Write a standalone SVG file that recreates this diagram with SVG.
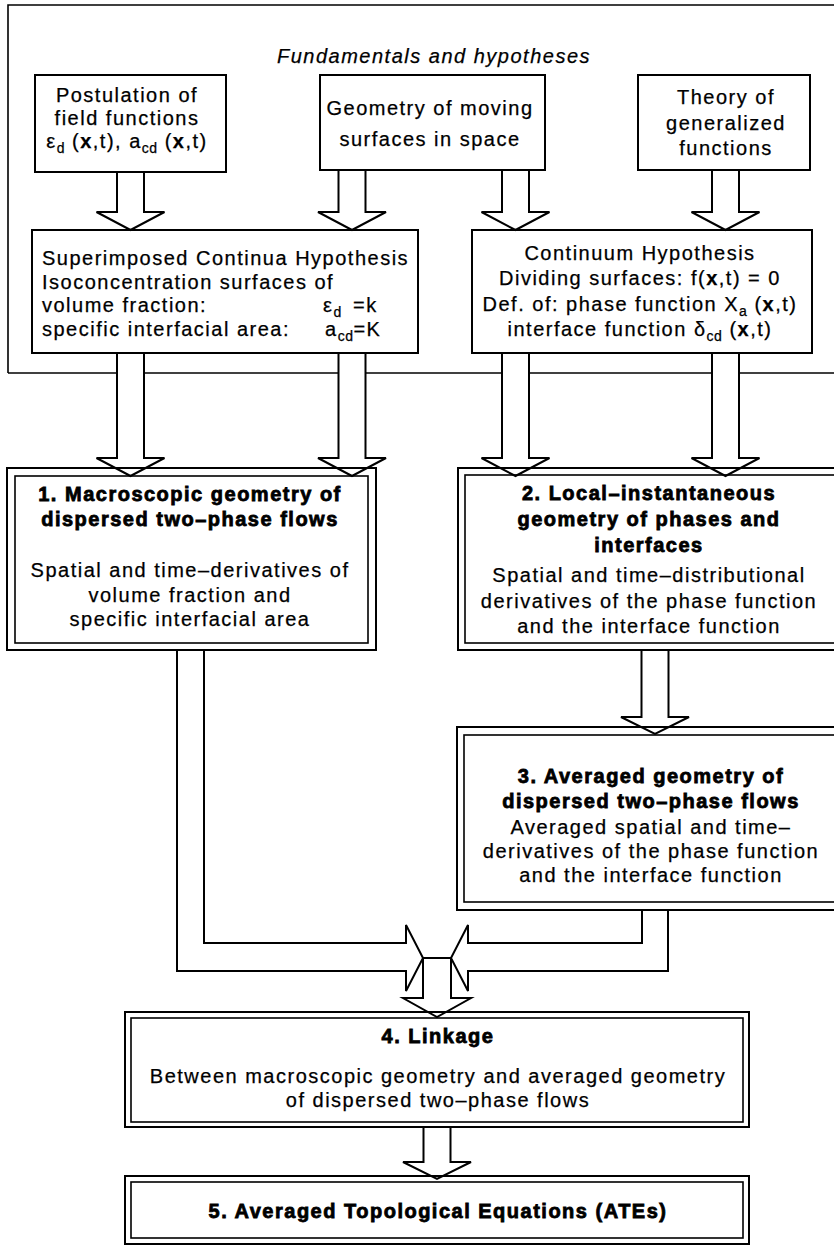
<svg xmlns="http://www.w3.org/2000/svg" width="834" height="1247" viewBox="0 0 834 1247">
<style>
.t{font-family:"Liberation Sans",Arial,Helvetica,sans-serif;font-size:20px;letter-spacing:1.5px;fill:#000;stroke:#000;stroke-width:0.25px}
.c{text-anchor:middle}
.b{font-weight:bold}
.hb{font-weight:bold;stroke:#000;stroke-width:0.8px}
.i{font-style:italic}
.s{font-size:14px;letter-spacing:0.5px}
.frame{fill:none;stroke:#000;stroke-width:1.6}
.box{fill:none;stroke:#000;stroke-width:2}
.box2{fill:none;stroke:#000;stroke-width:1.6}
.arr{fill:#fff;stroke:#000;stroke-width:2;stroke-linejoin:miter}
</style>
<rect x="0" y="0" width="834" height="1247" fill="#fff"/>

<g id="frame">
<path class="frame" d="M 8,373 L 8,5 L 840,5"/>
<path class="frame" d="M 8,373 L 840,373"/>
<text class="t i c" x="434" y="63">Fundamentals and hypotheses</text>
</g>

<g id="connectors">
<path class="arr" d="M 117,172 L 117,212 L 96.5,212 L 130.5,230 L 164.5,212 L 144,212 L 144,172"/>
<path class="arr" d="M 338.5,170 L 338.5,212 L 318,212 L 352,230 L 386,212 L 365.5,212 L 365.5,170"/>
<path class="arr" d="M 502,170 L 502,212 L 481.5,212 L 515.5,230 L 549.5,212 L 529,212 L 529,170"/>
<path class="arr" d="M 712,170 L 712,212 L 691.5,212 L 725.5,230 L 759.5,212 L 739,212 L 739,170"/>

<path class="arr" d="M 117,353 L 117,458 L 96.5,458 L 130.5,476 L 164.5,458 L 144,458 L 144,353"/>
<path class="arr" d="M 338.5,353 L 338.5,458 L 318,458 L 352,476 L 386,458 L 365.5,458 L 365.5,353"/>
<path class="arr" d="M 502,353 L 502,458 L 481.5,458 L 515.5,476 L 549.5,458 L 529,458 L 529,353"/>
<path class="arr" d="M 712,353 L 712,458 L 691.5,458 L 725.5,476 L 759.5,458 L 739,458 L 739,353"/>

<path class="arr" d="M 641.5,650 L 641.5,717 L 621,717 L 655,734 L 689,717 L 668.5,717 L 668.5,650"/>

<path class="arr" d="M 204,650 L 204,943 L 406,943 L 406,925 L 423,958 L 406,991 L 406,971 L 177,971 L 177,650"/>
<path class="arr" d="M 642,910 L 642,943 L 468,943 L 468,925 L 451,958 L 468,991 L 468,971 L 668,971 L 668,910"/>
<path class="arr" d="M 423,958 L 451,958 L 451,998 L 471,998 L 437,1017 L 403,998 L 423,998 Z"/>

<path class="arr" d="M 423.5,1127 L 423.5,1162 L 403,1162 L 437,1179 L 471,1162 L 450.5,1162 L 450.5,1127"/>
</g>

<g id="nodeA">
<rect class="box" x="35" y="75" width="191" height="97"/>
<text class="t c" x="127" y="102">Postulation of</text>
<text class="t c" x="127" y="125">field functions</text>
<text class="t c" x="127" y="148">ε<tspan class="s" dy="5">d</tspan><tspan dy="-5"> (</tspan><tspan class="b">x</tspan>,t), a<tspan class="s" dy="5">cd</tspan><tspan dy="-5"> (</tspan><tspan class="b">x</tspan>,t)</text>
</g>

<g id="nodeB">
<rect class="box" x="320" y="75" width="225" height="95"/>
<text class="t c" x="430" y="115">Geometry of moving</text>
<text class="t c" x="430" y="146">surfaces in space</text>
</g>

<g id="nodeC">
<rect class="box" x="638" y="75" width="172" height="95"/>
<text class="t c" x="726" y="104">Theory of</text>
<text class="t c" x="726" y="130">generalized</text>
<text class="t c" x="726" y="155">functions</text>
</g>

<g id="nodeD">
<rect class="box" x="32" y="230" width="386" height="123"/>
<text class="t" x="42" y="265">Superimposed Continua Hypothesis</text>
<text class="t" x="42" y="289">Isoconcentration surfaces of</text>
<text class="t" x="42" y="312">volume fraction:</text>
<text class="t" x="323" y="312">ε<tspan class="s" dy="5">d</tspan><tspan dy="-5" x="353">=k</tspan></text>
<text class="t" x="42" y="336">specific interfacial area:</text>
<text class="t" x="325" y="336">a<tspan class="s" dy="5">cd</tspan><tspan dy="-5">=K</tspan></text>
</g>

<g id="nodeE">
<rect class="box" x="472" y="230" width="340" height="123"/>
<text class="t c" x="640" y="260">Continuum Hypothesis</text>
<text class="t c" x="640" y="285">Dividing surfaces: f(<tspan class="b">x</tspan>,t) = 0</text>
<text class="t c" x="640" y="311">Def. of: phase function X<tspan class="s" dy="5">a</tspan><tspan dy="-5"> (</tspan><tspan class="b">x</tspan>,t)</text>
<text class="t c" x="640" y="336">interface function δ<tspan class="s" dy="5">cd</tspan><tspan dy="-5"> (</tspan><tspan class="b">x</tspan>,t)</text>
</g>

<g id="node1">
<rect class="box" x="7" y="468" width="369" height="182"/>
<rect class="box2" x="15" y="476" width="353" height="167"/>
<text class="t hb c" x="190" y="501">1. Macroscopic geometry of</text>
<text class="t hb c" x="190" y="526">dispersed two–phase flows</text>
<text class="t c" x="190" y="577">Spatial and time–derivatives of</text>
<text class="t c" x="190" y="602">volume fraction and</text>
<text class="t c" x="190" y="626">specific interfacial area</text>
</g>

<g id="node2">
<rect class="box" x="458" y="468" width="392" height="182"/>
<rect class="box2" x="465" y="475" width="377" height="168"/>
<text class="t hb c" x="649" y="500">2. Local–instantaneous</text>
<text class="t hb c" x="649" y="526">geometry of phases and</text>
<text class="t hb c" x="649" y="552">interfaces</text>
<text class="t c" x="649" y="582">Spatial and time–distributional</text>
<text class="t c" x="649" y="608">derivatives of the phase function</text>
<text class="t c" x="649" y="633">and the interface function</text>
</g>

<g id="node3">
<rect class="box" x="457" y="727" width="393" height="183"/>
<rect class="box2" x="464" y="735" width="386" height="167"/>
<text class="t hb c" x="651" y="783">3. Averaged geometry of</text>
<text class="t hb c" x="651" y="808">dispersed two–phase flows</text>
<text class="t c" x="651" y="834">Averaged spatial and time–</text>
<text class="t c" x="651" y="858">derivatives of the phase function</text>
<text class="t c" x="651" y="882">and the interface function</text>
</g>

<g id="node4">
<rect class="box" x="125" y="1012" width="624" height="115"/>
<rect class="box2" x="131" y="1018" width="612" height="104"/>
<text class="t hb c" x="438" y="1043">4. Linkage</text>
<text class="t c" x="438" y="1083">Between macroscopic geometry and averaged geometry</text>
<text class="t c" x="438" y="1107">of dispersed two–phase flows</text>
</g>

<g id="node5">
<rect class="box" x="125" y="1176" width="624" height="68"/>
<rect class="box2" x="131" y="1182" width="612" height="56"/>
<text class="t hb c" x="438" y="1218">5. Averaged Topological Equations (ATEs)</text>
</g>
</svg>
